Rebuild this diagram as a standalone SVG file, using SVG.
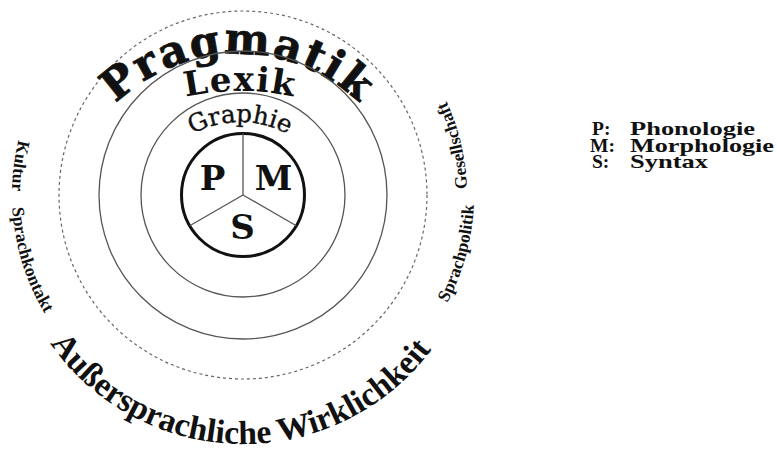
<svg xmlns="http://www.w3.org/2000/svg" width="777" height="450" viewBox="0 0 777 450">
  <style>
    .ring { fill: none; stroke: #555; stroke-width: 1.3; }
    .dash { fill: none; stroke: #666; stroke-width: 1.2; stroke-dasharray: 3 3; }
    .core { fill: none; stroke: #111; stroke-width: 3; }
    .div { stroke: #555; stroke-width: 1.3; }
    .big { font-family: "DejaVu Serif", serif; font-weight: bold; fill: #111; }
    .reg { font-family: "DejaVu Serif", serif; fill: #111; }
    .lab { font-family: "Liberation Serif", serif; font-weight: bold; fill: #111; }
    .leg { font-family: "Liberation Serif", serif; font-weight: bold; font-size: 19.5px; fill: #111; }
  </style>
  <defs>
    <path id="outerPath" d="M 243,-36 A 231 231 0 1 0 243,426 A 231 231 0 1 0 243,-36"/>
    <path id="gesPath" d="M 243,-29 A 224 224 0 1 0 243,419 A 224 224 0 1 0 243,-29"/>
    <path id="bottomPath" d="M 243,-26 A 235 235 0 1 0 243,444 A 235 235 0 1 0 243,-26"/>
    <path id="pragPath" d="M 63,229 A 175 175 0 0 1 413,229"/>
    <path id="lexPath" d="M -19,350 A 259 259 0 0 1 499,350"/>
    <path id="graPath" d="M 140,222 A 100 100 0 0 1 340,222"/>
  </defs>

  <g id="ausser">
    <circle class="dash" cx="243" cy="195" r="184"/>
    <text class="lab" font-size="33.5"><textPath href="#bottomPath" startOffset="49.75%" text-anchor="middle">Außersprachliche Wirklichkeit</textPath></text>
    <text class="lab" font-size="17.5"><textPath href="#outerPath" startOffset="22.94%" text-anchor="middle">Kultur</textPath></text>
    <text class="lab" font-size="17.5"><textPath href="#outerPath" startOffset="29.72%" text-anchor="middle">Sprachkontakt</textPath></text>
    <text class="lab" font-size="17.5"><textPath href="#outerPath" startOffset="70.78%" text-anchor="middle">Sprachpolitik</textPath></text>
    <text class="lab" font-size="17.5"><textPath href="#gesPath" startOffset="78.67%" text-anchor="middle">Gesellschaft</textPath></text>
  </g>

  <g id="pragmatik">
    <text class="big" font-size="43" letter-spacing="2" stroke="#111" stroke-width="0.8"><textPath href="#pragPath" startOffset="50%" text-anchor="middle">Pragmatik</textPath></text>
  </g>

  <g id="lexik">
    <circle class="ring" cx="243" cy="195" r="144"/>
    <text class="big" font-size="34" letter-spacing="1.5"><textPath href="#lexPath" startOffset="50%" text-anchor="middle">Lexik</textPath></text>
  </g>

  <g id="graphie">
    <circle class="ring" cx="243" cy="195" r="102"/>
    <text class="reg" font-size="24.5" stroke="#111" stroke-width="0.4"><textPath href="#graPath" startOffset="50%" text-anchor="middle">Graphie</textPath></text>
  </g>

  <g id="kern">
    <circle class="core" cx="243" cy="195" r="61.5"/>
    <g class="div">
      <line x1="243" y1="195" x2="243" y2="133.5"/>
      <line x1="243" y1="195" x2="296.3" y2="225.75"/>
      <line x1="243" y1="195" x2="189.7" y2="225.75"/>
    </g>
    <text class="big" font-size="34" x="212.5" y="190" text-anchor="middle">P</text>
    <text class="big" font-size="34" x="273.5" y="190" text-anchor="middle">M</text>
    <text class="big" font-size="34" x="242.5" y="238.5" text-anchor="middle">S</text>
  </g>

  <g id="legende">
    <text class="leg" x="592" y="135">P:</text>
    <text class="leg" x="630" y="135" textLength="125" lengthAdjust="spacingAndGlyphs">Phonologie</text>
    <text class="leg" x="590" y="151.7">M:</text>
    <text class="leg" x="630" y="151.7" textLength="144" lengthAdjust="spacingAndGlyphs">Morphologie</text>
    <text class="leg" x="592" y="168.3">S:</text>
    <text class="leg" x="630" y="168.3" textLength="78" lengthAdjust="spacingAndGlyphs">Syntax</text>
  </g>
</svg>
